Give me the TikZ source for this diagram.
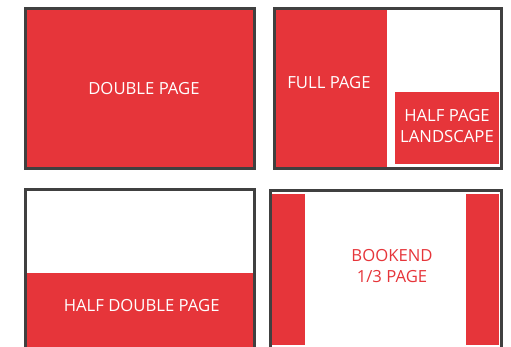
\documentclass[tikz,border=0pt]{standalone}
\usepackage{fontspec}
\setmainfont{Open Sans}
\usepackage{tikz}
\definecolor{adred}{RGB}{230,53,58}
\definecolor{frame}{RGB}{64,64,64}

\begin{document}
\begin{tikzpicture}[x=1pt, y=-1pt,
    pagebox/.style={draw=frame, line width=3pt},
    adfill/.style={fill=adred},
    adtext/.style={font=\fontsize{16.7}{21.5}\selectfont, align=center, text=white}]
  \useasboundingbox (0,0) rectangle (511,347);
  % Double page
  \fill[adfill] (25,8.5) rectangle (254.5,168.5);
  \draw[pagebox] (25,8.5) rectangle (254.5,168.5);
  \node[adtext] (double) at (144,89) {DOUBLE PAGE};
  % Full page + half page landscape
  \fill[adfill] (274,8.5) rectangle (386.7,168.5);
  \fill[adfill] (395,91.7) rectangle (499,164);
  \draw[pagebox] (274,8.5) rectangle (501,168.5);
  \node[adtext] (full) at (329,82.7) {FULL PAGE};
  \node[adtext] (halfland) at (447,126) {HALF PAGE\\LANDSCAPE};
  % Half double page
  \fill[adfill] (25,272.7) rectangle (254.5,360);
  \draw[pagebox] (25,190) rectangle (254.5,360);
  \node[adtext] (halfdouble) at (141.7,305.7) {HALF DOUBLE PAGE};
  % Bookend
  \fill[adfill] (272,194) rectangle (305,345);
  \fill[adfill] (466,194) rectangle (499,345);
  \draw[pagebox] (270.5,190.5) rectangle (501,360);
  \node[adtext, text=adred] (bookend) at (392,266) {BOOKEND\\1/3 PAGE};
\end{tikzpicture}
\end{document}
